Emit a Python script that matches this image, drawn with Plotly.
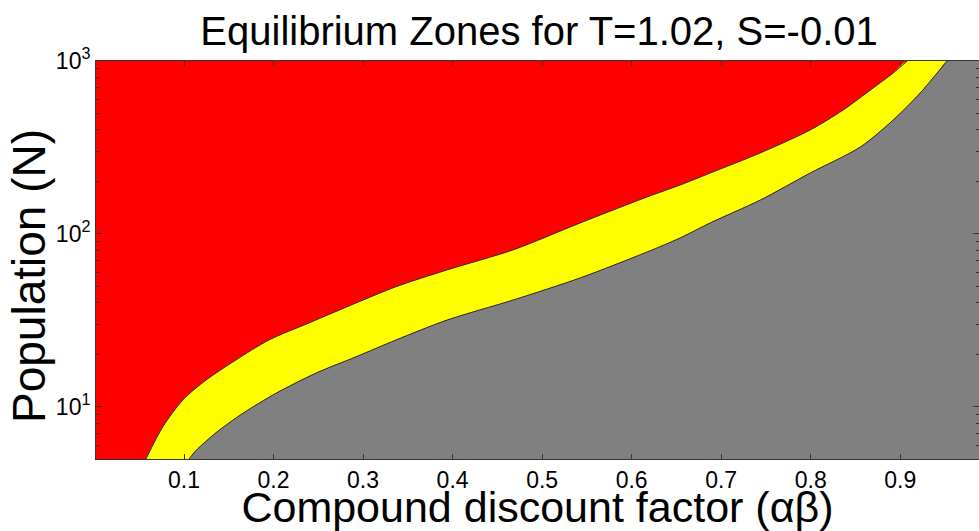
import plotly.graph_objects as go

# Axis extents
X_RANGE = [0.0017, 0.988]
N_RANGE = [5.0, 1000.0]

# Red / yellow boundary
upper_x = [0.0575, 0.0765, 0.0989, 0.1246, 0.1581, 0.195, 0.2397, 0.2922, 0.3369, 0.3939,
           0.4676, 0.5425, 0.6173, 0.6542, 0.6877, 0.7436, 0.7994, 0.8363, 0.8743, 0.8922, 0.9078]
upper_N = [5.0, 7.7, 11.0, 14.3, 18.7, 24.4, 30.6, 39.9, 49.6, 62.0,
           80.9, 115.8, 163.7, 191.9, 225, 294, 399, 521, 727, 853, 1000]

# Yellow / gray boundary
lower_x = [0.1056, 0.1134, 0.1358, 0.1659, 0.2028, 0.2475, 0.2922, 0.3369, 0.3939, 0.4676,
           0.5425, 0.6173, 0.6542, 0.6877, 0.7436, 0.7994, 0.8553, 0.8922, 0.9223, 0.9413, 0.9525]
lower_N = [5.0, 5.6, 7.1, 9.2, 12.0, 15.7, 19.5, 24.4, 31.8, 41.5,
           55.7, 78.7, 94.9, 115.8, 157, 225, 318, 456, 653, 853, 1000]

x_ticks = [0.1, 0.2, 0.3, 0.4, 0.5, 0.6, 0.7, 0.8, 0.9]
y_ticks = [10, 100, 1000]
y_ticktext = ["10<sup>1</sup>", "10<sup>2</sup>", "10<sup>3</sup>"]
y_minor = [6, 7, 8, 9, 20, 30, 40, 50, 60, 70, 80, 90, 200, 300, 400, 500, 600, 700, 800, 900]

RED, YELLOW, GRAY = "#FF0000", "#FFFF00", "#808080"
EDGE = "#2a2a2a"

fig = go.Figure()
# yellow zone (between the two boundaries)
fig.add_trace(go.Scatter(
    x=upper_x + lower_x[::-1],
    y=upper_N + lower_N[::-1],
    fill="toself", fillcolor=YELLOW, mode="lines",
    line=dict(width=0, shape="spline", smoothing=0.8), hoverinfo="skip"))
# gray zone (right of the lower boundary)
fig.add_trace(go.Scatter(
    x=lower_x + [X_RANGE[1], X_RANGE[1]],
    y=lower_N + [N_RANGE[1], N_RANGE[0]],
    fill="toself", fillcolor=GRAY, mode="lines",
    line=dict(width=0, shape="spline", smoothing=0.8), hoverinfo="skip"))
# boundaries
for bx, by in [(upper_x, upper_N), (lower_x, lower_N)]:
    fig.add_trace(go.Scatter(x=bx, y=by, mode="lines",
                             line=dict(color=EDGE, width=1, shape="spline", smoothing=0.8),
                             hoverinfo="skip"))

font = "Liberation Sans, Arial, sans-serif"
fig.update_layout(
    width=979, height=531,
    margin=dict(l=96, r=0, t=61, b=72),
    paper_bgcolor="white", plot_bgcolor=RED,
    showlegend=False,
    font=dict(family=font, color="black", size=23),
    title=dict(text="Equilibrium Zones for T=1.02, S=-0.01", x=0.5506, xanchor="center",
               y=1 - 31 / 531, yanchor="middle", font=dict(size=40, family=font, color="black")),
    xaxis=dict(range=X_RANGE, tickvals=x_ticks, ticks="inside", ticklen=5, tickcolor="#333",
               showline=True, linecolor="#333", linewidth=1, mirror="ticks", showgrid=False,
               zeroline=False, tickfont=dict(size=23), automargin=False,
               title=dict(text="Compound discount factor (αβ)", font=dict(size=43), standoff=6)),
    yaxis=dict(type="log", range=[0.69897, 3], tickvals=y_ticks, ticktext=y_ticktext,
               ticks="inside", ticklen=6, tickcolor="#333",
               minor=dict(tickvals=y_minor, ticks="inside", ticklen=3, tickcolor="#333",
                          showgrid=False),
               showline=True, linecolor="#333", linewidth=1, mirror="ticks", showgrid=False,
               zeroline=False, tickfont=dict(size=23), automargin=False),
    annotations=[dict(text="Population (N)", textangle=-90, xref="paper", yref="paper",
                      x=(29 - 96) / 883, y=1 - (276 - 61) / 398, xanchor="center",
                      yanchor="middle", showarrow=False,
                      font=dict(size=46, family=font, color="black"))],
)

fig.write_html("out.html", config={"displayModeBar": False},
               post_script="document.body.style.margin='0';")
